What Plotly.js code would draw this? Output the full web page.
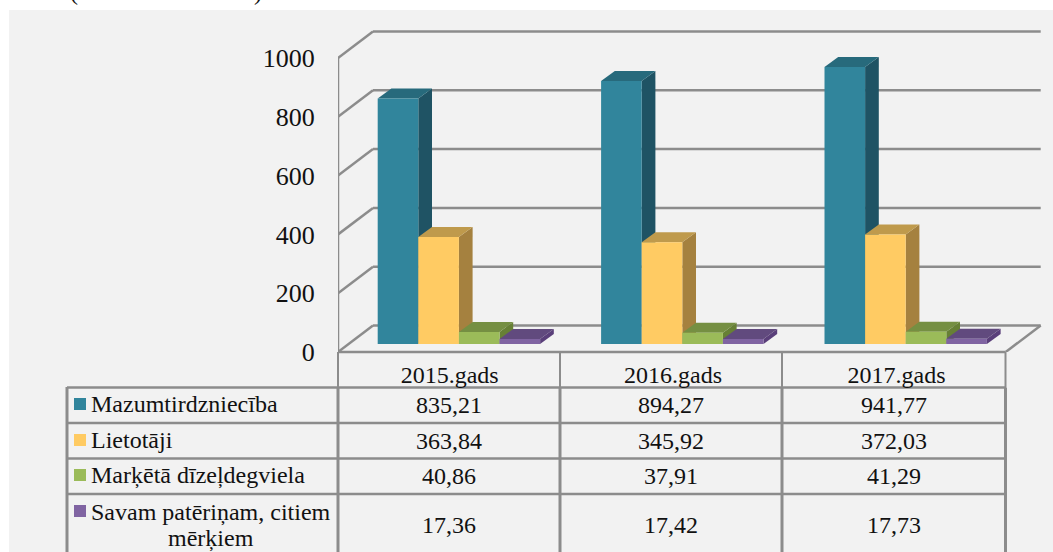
<!DOCTYPE html>
<html>
<head>
<meta charset="utf-8">
<script src="https://cdn.plot.ly/plotly-3.0.1.min.js"></script>
<style>html,body{margin:0;padding:0;background:#fff;overflow:hidden}</style>
</head>
<body>
<div id="chart" style="width:1053px;height:552px"></div>
<script>
// ---- data ----
const years = ['2015.gads', '2016.gads', '2017.gads'];
const seriesNames = ['Mazumtirdzniecība', 'Lietotāji', 'Marķētā dīzeļdegviela', 'Savam patēriņam, citiem<br>mērķiem'];
const mazumtirdznieciba = [835.21, 894.27, 941.77];
const lietotaji = [363.84, 345.92, 372.03];
const marketa = [40.86, 37.91, 41.29];
const savam = [17.36, 17.42, 17.73];
const yTicks = [0, 200, 400, 600, 800, 1000];

// ---- styling ----
const frontColors = ['#31859C', '#FFCB63', '#9BBB59', '#8064A2'];
const sideColors = ['#1F5364', '#A5813F', '#678035', '#5A3F7A'];
const topColors = ['#276A7C', '#BF9A4C', '#758F42', '#614A7E'];
const gridColor = '#8C8C8C';
const serif = '"Liberation Serif", serif';
const allSeries = [mazumtirdznieciba, lietotaji, marketa, savam];

// ---- frame geometry (pixels) ----
const L = 338, R = 1045, T = 30, B = 352;
const slotPx = 223.4, pxPerUnit = 0.294;
const wallDX = 35 / slotPx, wallDY = 26.5 / pxPerUnit;
const barW = 40.6 / slotPx, barStart = -0.3223;
const barBase = 8 / pxPerUnit, depthX = 13.7 / slotPx, depthY = 10 / pxPerUnit;
const frontRight = 1005.7;
const px = p => (p - L) / (R - L);
const py = p => (B - p) / (B - T);

const shapes = [];
function line(x0, y0, x1, y1, w, c) {
  shapes.push({type: 'line', layer: 'below', xref: 'paper', yref: 'paper',
    x0: px(x0), y0: py(y0), x1: px(x1), y1: py(y1), line: {color: c || gridColor, width: w || 2}});
}
function box(x0, y0, x1, y1, c) {
  shapes.push({type: 'rect', layer: 'below', xref: 'paper', yref: 'paper',
    x0: px(x0), y0: py(y0), x1: px(x1), y1: py(y1), fillcolor: c, line: {width: 0}});
}
function poly(pts, c) {
  shapes.push({type: 'path', layer: 'below', xref: 'x', yref: 'y', fillcolor: c, line: {width: 0},
    path: 'M' + pts.map(p => p[0] + ',' + p[1]).join(' L') + ' Z'});
}

// panel
box(9, 10, 1053, 552, '#F2F2F2');

// walls
const xEnd = (frontRight - L) / slotPx;
const gridW = 2.5;
yTicks.forEach(v => {
  if (v > 0) {
    shapes.push({type: 'line', layer: 'below', xref: 'x', yref: 'y', x0: 0, y0: v, x1: wallDX, y1: v + wallDY, line: {color: gridColor, width: gridW}});
  }
  shapes.push({type: 'line', layer: 'below', xref: 'x', yref: 'y', x0: wallDX, y0: v + wallDY, x1: xEnd + wallDX, y1: v + wallDY, line: {color: gridColor, width: gridW}});
});
shapes.push({type: 'line', layer: 'below', xref: 'x', yref: 'y', x0: 0, y0: 0, x1: 0, y1: 1000, line: {color: gridColor, width: gridW}});
shapes.push({type: 'line', layer: 'below', xref: 'x', yref: 'y', x0: 0, y0: 0, x1: wallDX, y1: wallDY, line: {color: gridColor, width: gridW}});
shapes.push({type: 'line', layer: 'below', xref: 'x', yref: 'y', x0: xEnd, y0: 0, x1: xEnd + wallDX, y1: wallDY, line: {color: gridColor, width: gridW}});

// table grid
const colX = [338, 560, 782, 1005.5];
const rowY = [387.5, 423, 458.5, 494];
line(338, 352, 1005.5, 352, 2.5);
colX.forEach(x => line(x, 352, x, 387.5, 2));
rowY.forEach(y => line(67, y, 1006, y, 2.5));
line(67, 387, 67, 552, 3);
colX.forEach(x => line(x, 387.5, x, 552, 3));

// 3D faces of the bars
years.forEach((_, g) => {
  allSeries.forEach((vals, s) => {
    const x0 = g + 0.5 + barStart + s * barW, x1 = x0 + barW, b = barBase, t = barBase + vals[g];
    poly([[x1, b], [x1 + depthX, b + depthY], [x1 + depthX, t + depthY], [x1, t]], sideColors[s]);
    poly([[x0, t], [x0 + depthX, t + depthY], [x1 + depthX, t + depthY], [x1, t]], topColors[s]);
  });
});

// bar fronts
const xCenters = years.map((_, i) => i + 0.5);
const traces = allSeries.map((vals, s) => ({
  type: 'bar', name: seriesNames[s].replace('<br>', ' '),
  x: xCenters, y: vals, base: years.map(() => barBase),
  width: barW, offset: barStart + s * barW,
  marker: {color: frontColors[s], line: {width: 0}}, hoverinfo: 'name+y'
}));

// table text
const annotations = [];
function label(text, x, y, anchor, size) {
  annotations.push({xref: 'paper', yref: 'paper', x: px(x), y: py(y), text: text, showarrow: false,
    xanchor: anchor, yanchor: 'middle', font: {family: serif, size: size || 24, color: '#111'}});
}
const rowCenters = [405, 441, 476, 525];
const fmt = v => v.toFixed(2).replace('.', ',');
seriesNames.forEach((n, s) => {
  const parts = n.split('<br>');
  if (parts.length === 1) {
    label(parts[0], 89, rowCenters[s] - 1, 'left');
  } else {
    label(parts[0], 89, 512, 'left');
    label(parts[1], 211, 538, 'center');
  }
  const keyTop = s === 3 ? rowCenters[s] - 20 : rowCenters[s] - 7;
  box(74, keyTop, 86, keyTop + 12, frontColors[s]);
  allSeries[s].forEach((v, g) => label(fmt(v), (colX[g] + colX[g + 1]) / 2, rowCenters[s], 'center'));
});

// remains of the clipped heading above the panel
label('(', 74, -8, 'center', 24);
label(')', 258, -8, 'center', 24);

const layout = {
  width: 1053, height: 552, autosize: false,
  margin: {l: L, r: 1053 - R, t: T, b: 552 - B, pad: 0},
  paper_bgcolor: '#FFFFFF', plot_bgcolor: 'rgba(0,0,0,0)',
  showlegend: false, barmode: 'overlay',
  xaxis: {range: [0, (R - L) / slotPx], showgrid: false, zeroline: false, showline: false,
    tickmode: 'array', tickvals: xCenters, ticktext: years, ticks: 'outside', ticklen: 1, tickcolor: 'rgba(0,0,0,0)',
    tickfont: {family: serif, size: 24, color: '#111'}},
  yaxis: {range: [0, (B - T) / pxPerUnit], showgrid: false, zeroline: false, showline: false,
    tickmode: 'array', tickvals: yTicks, ticktext: yTicks.map(String), ticks: 'outside', ticklen: 17, tickcolor: 'rgba(0,0,0,0)',
    tickfont: {family: serif, size: 26, color: '#111'}},
  shapes: shapes, annotations: annotations
};
Plotly.newPlot('chart', traces, layout, {displayModeBar: false, staticPlot: true});
</script>
</body>
</html>
